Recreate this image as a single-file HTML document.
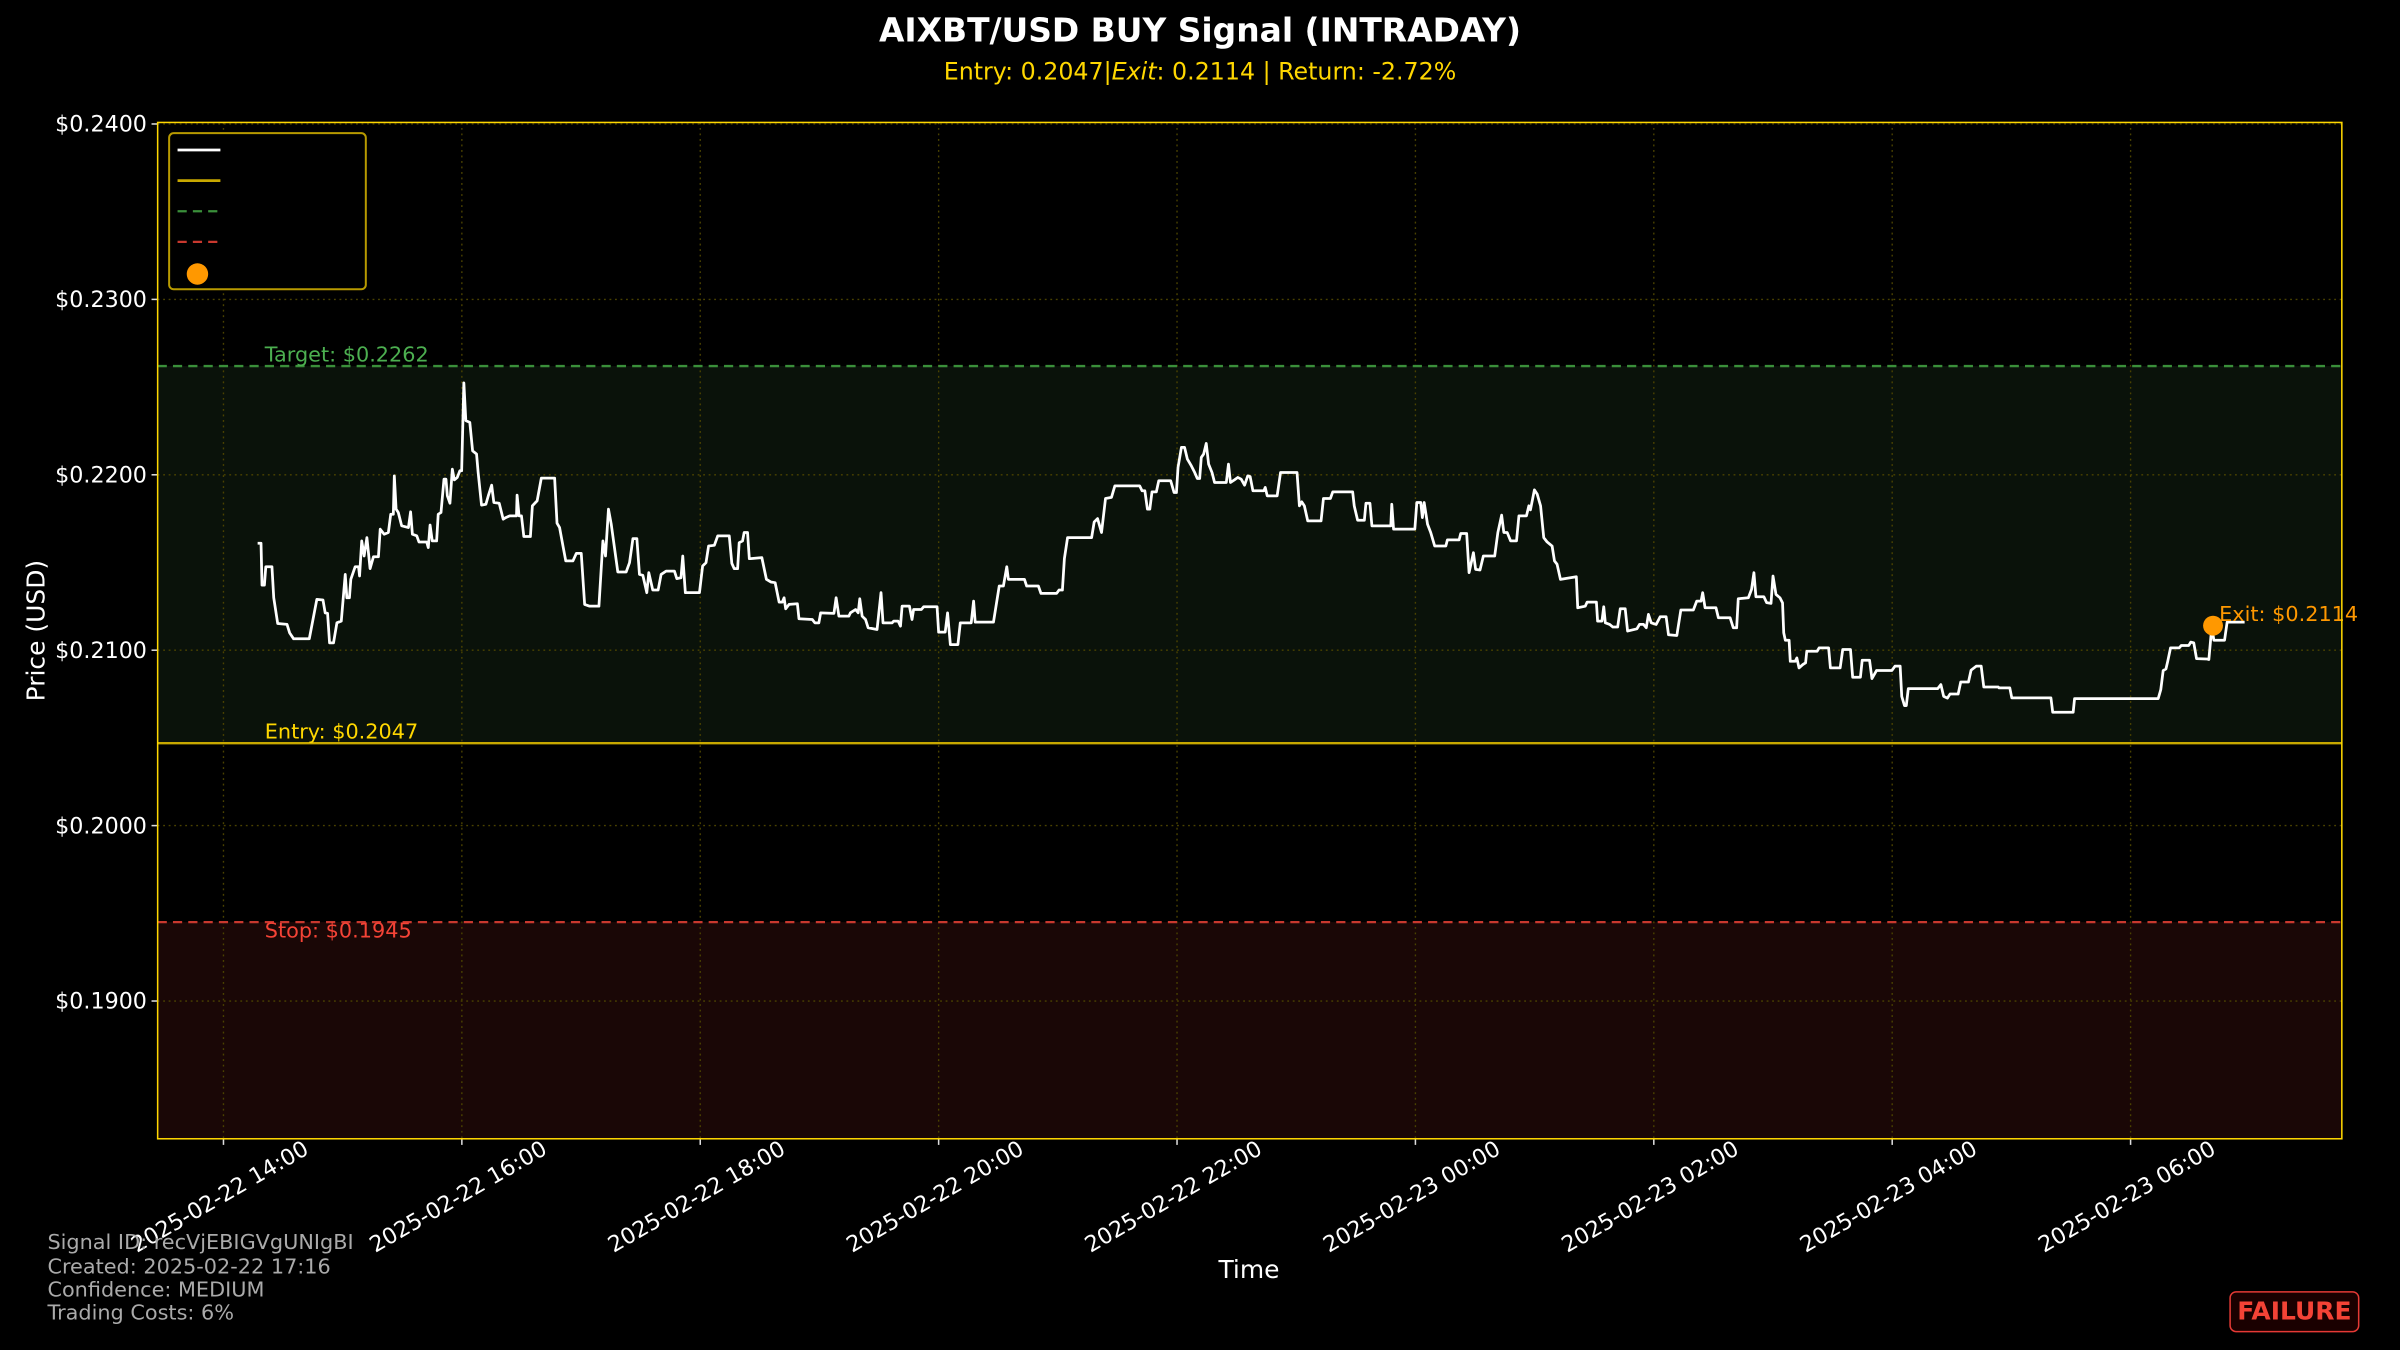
<!DOCTYPE html>
<html><head><meta charset="utf-8"><style>
html,body{margin:0;padding:0;background:#000;}
svg{display:block;font-family:"DejaVu Sans","Liberation Sans",sans-serif;}
</style></head><body>
<svg id="chart" width="2400" height="1350" viewBox="0 0 1568 882" xmlns="http://www.w3.org/2000/svg">
<rect x="0" y="0" width="1568" height="882" fill="#000"/>
<text x="784" y="27" fill="#fff" font-size="21.5" font-weight="bold" text-anchor="middle">AIXBT/USD BUY Signal (INTRADAY)</text>
<text x="784" y="52" fill="#ffd700" font-size="15.5" text-anchor="middle">Entry: 0.2047|<tspan font-style="italic">Exit</tspan>: 0.2114 | Return: -2.72%</text>
<g id="plot"></g>
<text transform="translate(29,412) rotate(-90)" fill="#fff" font-size="16.3" text-anchor="middle">Price (USD)</text>
<text x="816" y="835" fill="#fff" font-size="16.3" text-anchor="middle">Time</text>
<g fill="#aaa" font-size="13.6">
<text x="31" y="816">Signal ID: recVjEBIGVgUNIgBI</text>
<text x="31" y="832">Created: 2025-02-22 17:16</text>
<text x="31" y="847">Confidence: MEDIUM</text>
<text x="31" y="862">Trading Costs: 6%</text>
</g>
<g>
<rect x="1457" y="844" width="84" height="26" rx="4" fill="#1a0000" stroke="#e53935" stroke-width="1"/>
<text x="1499" y="862" fill="#f44336" font-size="16.3" font-weight="bold" text-anchor="middle">FAILURE</text>
</g>
</svg>
<script>
const minutes=[17.2,18.9,19.4,20.6,21.3,24.4,25.3,27.3,32.0,33.3,35.3,43.2,47.0,50.1,51.2,52.4,53.4,55.4,57.1,59.3,61.3,62.1,63.4,64.1,66.3,68.0,68.5,69.6,70.8,72.2,73.8,75.5,78.0,78.9,80.9,83.0,84.2,85.5,86.0,86.9,88.0,89.7,93.1,94.2,95.1,97.3,98.4,102.3,103.1,104.0,105.1,107.3,108.1,109.5,111.0,112.0,112.7,114.0,115.2,116.2,117.7,119.0,119.9,121.0,122.0,124.0,125.4,127.4,128.2,129.9,132.1,133.3,135.0,136.1,138.8,140.8,142.1,144.1,147.5,147.8,148.8,150.0,151.2,154.5,155.5,157.9,160.0,166.7,167.9,169.2,170.9,172.3,175.9,177.6,180.1,181.8,184.3,189.0,191.0,192.3,193.8,195.2,198.5,202.7,204.4,206.1,208.1,209.4,211.1,213.1,214.1,216.1,218.8,220.3,222.8,227.0,228.2,230.3,231.2,232.5,239.6,241.2,242.9,244.2,247.1,248.8,254.6,255.9,257.1,258.8,259.6,261.3,262.1,263.8,264.7,
265.4,271.0,273.3,275.5,277.7,279.7,281.3,282.2,283.0,284.7,288.9,289.7,296.4,297.7,299.7,300.6,307.3,308.4,309.8,314.8,315.6,318.2,319.5,320.3,321.5,323.2,324.5,329.0,331.0,332.0,336.6,337.4,339.6,340.8,341.6,345.3,346.6,347.4,351.3,352.5,359.2,360.0,363.3,364.5,365.9,369.7,370.9,376.4,377.6,378.4,387.6,390.5,392.6,394.3,395.1,403.2,404.3,410.2,411.5,419.4,420.6,422.3,423.3,424.9,437.0,438.3,440.0,442.0,444.0,447.0,448.7,461.2,462.4,463.8,465.1,466.3,467.4,469.6,470.8,476.8,478.5,479.7,480.5,482.2,483.8,485.2,487.2,488.9,490.2,491.4,492.2,493.4,494.7,495.9,497.6,498.9,504.8,505.9,506.9,508.9,510.6,512.3,514.0,515.6,516.8,518.2,
523.7,524.4,525.4,530.4,532.1,540.4,541.6,542.8,544.1,545.8,552.5,553.7,557.2,558.4,568.4,569.2,570.9,574.3,575.1,577.1,578.1,587.6,588.1,589.0,599.7,600.7,602.7,603.5,604.4,606.1,607.7,609.7,615.3,616.1,622.0,622.8,625.8,627.0,629.2,630.3,632.5,634.2,639.9,641.5,643.4,644.5,646.2,647.9,650.9,652.1,655.9,657.1,657.9,659.9,661.3,663.0,664.6,666.3,668.8,670.0,671.3,673.0,681.0,681.7,685.5,686.4,691.1,691.7,693.9,694.8,695.6,697.8,699.4,701.8,703.1,705.6,706.8,711.5,712.8,714.8,716.2,717.3,718.7,721.2,723.2,726.2,727.4,731.6,733.6,739.9,741.6,743.8,744.6,745.8,751.3,752.5,758.4,760.0,761.7,762.5,767.6,769.2,770.4,771.4,775.4,776.8,
779.0,780.0,781.5,783.5,784.8,785.4,786.2,788.1,788.7,791.2,792.0,793.1,795.0,796.4,797.0,802.2,803.2,808.0,808.9,813.8,815.1,819.0,820.1,824.0,824.9,828.6,829.8,832.1,839.8,841.4,844.0,844.8,846.2,847.1,848.1,862.9,864.5,865.9,867.8,869.1,873.2,874.5,878.4,879.7,882.3,884.8,886.1,893.4,893.8,899.2,900.2,919.9,920.8,931.1,931.8,973.9,975.2,976.4,977.8,978.7,980.1,984.5,985.5,989.3,990.3,991.8,993.2,998.4,999.4,1000.9,1001.9,1007.3,1008.6,1017.4];
const prices=[0.21610,0.21610,0.21371,0.21371,0.21476,0.21476,0.21299,0.21152,0.21147,0.21099,0.21065,0.21065,0.21290,0.21286,0.21213,0.21210,0.21042,0.21042,0.21156,0.21166,0.21432,0.21299,0.21299,0.21404,0.21476,0.21476,0.21423,0.21623,0.21537,0.21642,0.21465,0.21533,0.21533,0.21690,0.21661,0.21671,0.21775,0.21775,0.21994,0.21804,0.21785,0.21709,0.21699,0.21789,0.21661,0.21652,0.21617,0.21617,0.21585,0.21714,0.21623,0.21623,0.21775,0.21785,0.21975,0.21975,0.21880,0.21838,0.22032,0.21971,0.21985,0.22023,0.22023,0.22524,0.22309,0.22299,0.22137,0.22118,0.22013,0.21827,0.21832,0.21880,0.21941,0.21842,0.21838,0.21747,0.21756,0.21766,0.21766,0.21884,0.21766,0.21766,0.21648,0.21648,0.21823,0.21852,0.21981,0.21981,0.21724,0.21699,0.21594,0.21509,0.21509,0.21552,0.21552,0.21261,0.21251,0.21251,0.21623,0.21537,0.21804,0.21718,0.21446,0.21446,0.21499,0.21636,0.21636,0.21432,0.21427,0.21328,0.21442,0.21343,0.21343,0.21432,0.21451,0.21451,0.21408,0.21413,0.21537,0.21328,0.21328,0.21480,0.21499,0.21594,0.21598,0.21652,0.21652,0.21495,0.21465,0.21465,0.21613,0.21623,0.21671,0.21671,0.21522,
0.21522,0.21528,0.21404,0.21389,0.21385,0.21274,0.21274,0.21299,0.21236,0.21261,0.21265,0.21179,0.21175,0.21156,0.21156,0.21213,0.21210,0.21299,0.21194,0.21194,0.21213,0.21232,0.21213,0.21293,0.21194,0.21175,0.21128,0.21118,0.21328,0.21156,0.21156,0.21166,0.21166,0.21137,0.21251,0.21251,0.21175,0.21232,0.21232,0.21248,0.21248,0.21103,0.21103,0.21213,0.21032,0.21032,0.21156,0.21156,0.21280,0.21160,0.21160,0.21366,0.21366,0.21476,0.21404,0.21404,0.21366,0.21366,0.21324,0.21324,0.21343,0.21343,0.21522,0.21642,0.21642,0.21731,0.21750,0.21671,0.21865,0.21871,0.21937,0.21937,0.21909,0.21909,0.21804,0.21804,0.21903,0.21903,0.21966,0.21966,0.21899,0.21899,0.22042,0.22156,0.22156,0.22090,0.22051,0.22013,0.21979,0.21979,0.22099,0.22118,0.22179,0.22061,0.22013,0.21956,0.21956,0.22061,0.21956,0.21971,0.21985,0.21975,0.21941,0.21994,0.21990,0.21909,
0.21909,0.21928,0.21880,0.21880,0.22013,0.22013,0.21823,0.21846,0.21823,0.21737,0.21737,0.21865,0.21865,0.21903,0.21903,0.21823,0.21741,0.21741,0.21838,0.21838,0.21709,0.21709,0.21832,0.21690,0.21690,0.21842,0.21842,0.21756,0.21842,0.21718,0.21671,0.21594,0.21594,0.21629,0.21629,0.21665,0.21665,0.21442,0.21556,0.21461,0.21457,0.21537,0.21537,0.21671,0.21770,0.21671,0.21671,0.21623,0.21623,0.21766,0.21766,0.21823,0.21800,0.21914,0.21890,0.21823,0.21642,0.21617,0.21594,0.21509,0.21490,0.21404,0.21419,0.21242,0.21251,0.21274,0.21274,0.21166,0.21166,0.21248,0.21156,0.21147,0.21132,0.21132,0.21236,0.21236,0.21109,0.21122,0.21147,0.21147,0.21128,0.21204,0.21156,0.21147,0.21191,0.21191,0.21088,0.21084,0.21229,0.21229,0.21280,0.21280,0.21328,0.21242,0.21242,0.21185,0.21185,0.21128,0.21128,0.21293,0.21299,0.21347,0.21442,0.21305,0.21305,0.21271,
0.21267,0.21423,0.21318,0.21299,0.21270,0.21099,0.21057,0.21057,0.20937,0.20937,0.20956,0.20899,0.20918,0.20928,0.20994,0.20994,0.21013,0.21013,0.20899,0.20899,0.21004,0.21004,0.20846,0.20846,0.20943,0.20943,0.20838,0.20884,0.20884,0.20909,0.20909,0.20737,0.20684,0.20684,0.20781,0.20781,0.20804,0.20737,0.20727,0.20750,0.20750,0.20819,0.20819,0.20886,0.20909,0.20909,0.20790,0.20790,0.20785,0.20785,0.20728,0.20728,0.20646,0.20646,0.20724,0.20724,0.20775,0.20884,0.20893,0.20937,0.21013,0.21013,0.21027,0.21027,0.21046,0.21042,0.20952,0.20950,0.20947,0.21137,0.21057,0.21057,0.21160,0.21160];
const yTicks=[0.19,0.20,0.21,0.22,0.23,0.24];
const xTickMinutes=[0,120,240,360,480,600,720,840,960];
const xTickLabels=["2025-02-22 14:00","2025-02-22 16:00","2025-02-22 18:00","2025-02-22 20:00","2025-02-22 22:00","2025-02-23 00:00","2025-02-23 02:00","2025-02-23 04:00","2025-02-23 06:00"];
const entryPrice=0.2047, targetPrice=0.2262, stopPrice=0.1945, exitPrice=0.2114, exitMinute=1001.5;

const L=103,R=1530,T=80,B=744;
const xs=m=>146+1.2979*m;
const ys=p=>81+(0.24-p)*11460;
const NS="http://www.w3.org/2000/svg";
const g=document.getElementById('plot');
function mk(tag,attrs,parent){const e=document.createElementNS(NS,tag);for(const k in attrs)e.setAttribute(k,attrs[k]);(parent||g).appendChild(e);return e;}

let e;
e=mk('rect',{x:L,y:ys(targetPrice),width:R-L,height:ys(entryPrice)-ys(targetPrice),fill:'#0a120a'});


e=mk('rect',{x:L,y:ys(stopPrice),width:R-L,height:B-ys(stopPrice),fill:'#1a0706'});



yTicks.forEach(v=>{
  const y=ys(v);
  e=mk('line',{x1:L,x2:R,y1:y,y2:y,stroke:'#4a4200','stroke-width':0.9,'stroke-dasharray':'1.2,2.4'});
  
  
  mk('line',{x1:L-4,x2:L,y1:y,y2:y,stroke:'#ddd','stroke-width':1});
  e=mk('text',{x:L-7,y:y+5,fill:'#fff','font-size':14.5,'text-anchor':'end'});
  e.textContent='$'+v.toFixed(4);
  
  
});
xTickMinutes.forEach((m,i)=>{
  const x=xs(m);
  e=mk('line',{x1:x,x2:x,y1:T,y2:B,stroke:'#4a4200','stroke-width':0.9,'stroke-dasharray':'1.2,2.4'});
  
  
  mk('line',{x1:x,x2:x,y1:B,y2:B+4,stroke:'#ddd','stroke-width':1});
  e=mk('text',{transform:`translate(${x},${B+42}) rotate(-30)`,fill:'#fff','font-size':14.5,'text-anchor':'middle'});
  e.textContent=xTickLabels[i];
  
  
});

e=mk('line',{x1:L,x2:R,y1:ys(targetPrice),y2:ys(targetPrice),stroke:'#3a8f3a','stroke-width':1.5,'stroke-dasharray':'6,4'});


e=mk('line',{x1:L,x2:R,y1:ys(entryPrice),y2:ys(entryPrice),stroke:'#c8a800','stroke-width':1.6});


e=mk('line',{x1:L,x2:R,y1:ys(stopPrice),y2:ys(stopPrice),stroke:'#c8382e','stroke-width':1.5,'stroke-dasharray':'6,4'});



e=mk('text',{x:173,y:ys(targetPrice)-3,fill:'#4caf50','font-size':13.6});
e.textContent='Target: $'+targetPrice.toFixed(4);


e=mk('text',{x:173,y:ys(entryPrice)-3,fill:'#ffd700','font-size':13.6});
e.textContent='Entry: $'+entryPrice.toFixed(4);


e=mk('text',{x:173,y:ys(stopPrice)+10,fill:'#f44336','font-size':13.6});
e.textContent='Stop: $'+stopPrice.toFixed(4);



let d='';
minutes.forEach((m,i)=>{d+=(i?'L':'M')+xs(m).toFixed(2)+','+ys(prices[i]).toFixed(2);});
e=mk('path',{d:d,fill:'none',stroke:'#fff','stroke-width':1.8,'stroke-linejoin':'round'});



e=mk('circle',{cx:xs(exitMinute),cy:ys(exitPrice),r:6.5,fill:'#ff9800'});


e=mk('text',{x:xs(exitMinute)+4,y:ys(exitPrice)-3,fill:'#ff9800','font-size':13.6});
e.textContent='Exit: $'+exitPrice.toFixed(4);



e=mk('rect',{x:L,y:T,width:R-L,height:B-T,fill:'none',stroke:'#ffd700','stroke-width':1});



const lg=mk('g',{});


mk('rect',{x:110.5,y:87,width:128.5,height:102,rx:3,fill:'#000',stroke:'#b89a00','stroke-width':1.3},lg);
e=mk('line',{x1:116,x2:144,y1:98,y2:98,stroke:'#fff','stroke-width':1.8},lg);


e=mk('line',{x1:116,x2:144,y1:118,y2:118,stroke:'#c8a800','stroke-width':1.8},lg);


e=mk('line',{x1:116,x2:144,y1:138,y2:138,stroke:'#3a8f3a','stroke-width':1.5,'stroke-dasharray':'6,4'},lg);


e=mk('line',{x1:116,x2:144,y1:158,y2:158,stroke:'#c8382e','stroke-width':1.5,'stroke-dasharray':'6,4'},lg);


e=mk('circle',{cx:129,cy:179,r:7,fill:'#ff9800'},lg);


</script>
</body></html>
